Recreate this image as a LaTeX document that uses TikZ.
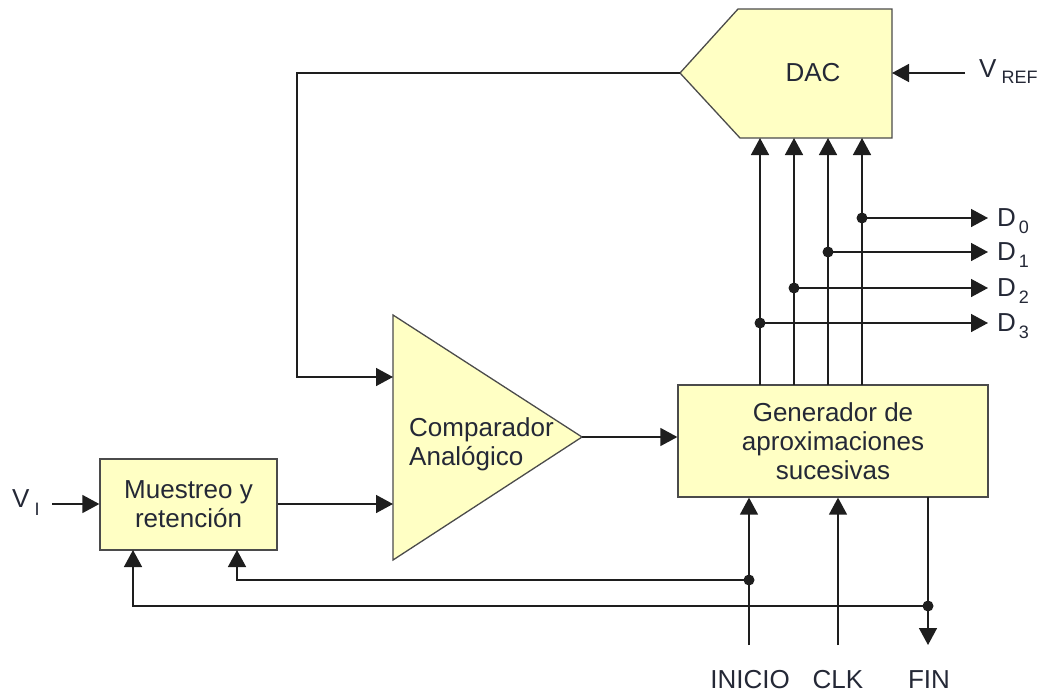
\documentclass[tikz,border=0pt]{standalone}
\usepackage{fontspec}
\setmainfont{Liberation Sans}
\usetikzlibrary{arrows.meta,calc}
\definecolor{boxfill}{RGB}{255,255,196}
\definecolor{ink}{RGB}{30,30,30}
\definecolor{txt}{RGB}{36,40,54}
\tikzset{
  blockbox/.style={draw=ink!80, fill=boxfill, line width=1.3pt},
  wire/.style={draw=ink, line width=1.5pt},
  sig/.style={wire, -{Triangle[length=17pt,width=18pt]}},
  junction/.style={circle, fill=ink, inner sep=0pt, minimum size=11pt},
  lbl/.style={text=txt, font=\fontsize{26}{29}\selectfont, inner sep=0pt},
}
% signal name with a lowered index: \signame{gap}{drop}{name}{index}
\newcommand{\signame}[4]{#3\hspace{#1}\raisebox{-#2}{\fontsize{18}{18}\selectfont #4}}

\begin{document}
\begin{tikzpicture}[x=1pt,y=-1pt]
\useasboundingbox (0,0) rectangle (1041,694);

% ---- DAC (pointed block) ----
\coordinate (dacTip) at (680,73);
\filldraw[blockbox] (dacTip) -- (738,9) -- (892,9) -- (892,138) -- (740,138) -- cycle;
\node[lbl] (dac) at (813,73) {DAC};
\coordinate (dacRef) at (892,73);
\coordinate (vrefIn) at (965,73);
\node[lbl, anchor=base west] (vref) at (979,77) {\signame{5pt}{6pt}{V}{REF}};
\draw[sig] (vrefIn) -- (dacRef);

% ---- Comparator (triangle) ----
\coordinate (cmpTop) at (393,315);
\coordinate (cmpBot) at (393,560);
\coordinate (cmpOut) at (582,437);
\filldraw[blockbox] (cmpTop) -- (cmpOut) -- (cmpBot) -- cycle;
\node[lbl, anchor=west, align=left] (cmp) at (409,444) {Comparador\\Analógico};
\coordinate (cmpP) at (393,377);
\coordinate (cmpN) at (393,504);

% ---- Successive approximation register ----
\node[blockbox, lbl, minimum width=310pt, minimum height=112pt, align=center]
  (gen) at (833,441) {Generador de\\aproximaciones\\sucesivas};

% ---- Sample and hold ----
\node[blockbox, lbl, minimum width=177pt, minimum height=91pt, align=center]
  (mys) at (188.5,504.5) {Muestreo y\\retención};

% ---- Analog path ----
\coordinate (viIn) at (52,504);
\node[lbl, anchor=base west] (vi) at (12,507) {\signame{5pt}{8pt}{V}{I}};
\draw[sig] (viIn) -- (mys.west |- viIn);
\draw[sig] (mys.east |- cmpN) -- (cmpN);
\draw[sig] (cmpOut) -- (gen.west |- cmpOut);
\draw[sig] (dacTip) -- (297,73) |- (cmpP);

% ---- Digital bus: register to DAC, with taps to the outputs ----
\foreach \x/\yy/\n in {760/323/3, 794/288/2, 828/252/1, 862/218/0} {
  \coordinate (gt\n) at (\x,385);
  \coordinate (di\n) at (\x,138);
  \draw[sig] (gt\n) -- (di\n);
  \node[junction] (tap\n) at (\x,\yy) {};
  \coordinate (dout\n) at (988,\yy);
  \draw[sig] (tap\n.center) -- (dout\n);
  \node[lbl, anchor=base west] (dl\n) at (997,\yy+8) {\signame{3pt}{7pt}{D}{\n}};
}

% ---- Control lines ----
\coordinate (iniIn) at (749,645);
\coordinate (clkIn) at (838,645);
\coordinate (finTop) at (928,497);
\coordinate (finOut) at (928,645);
\node[junction] (iniDot) at (749,580) {};
\node[junction] (finDot) at (928,606) {};
\coordinate (mysA) at (133,550);
\coordinate (mysB) at (237,550);

\draw[sig] (iniIn) -- (iniIn |- gen.south);
\draw[sig] (clkIn) -- (clkIn |- gen.south);
\draw[sig] (finTop) -- (finOut);
\draw[sig] (iniDot.center) -| (mysB);
\draw[sig] (finDot.center) -| (mysA);

\node[lbl, anchor=base] (ini) at (750,688) {INICIO};
\node[lbl, anchor=base] (clk) at (838,688) {CLK};
\node[lbl, anchor=base] (fin) at (929,688) {FIN};
\end{tikzpicture}
\end{document}
